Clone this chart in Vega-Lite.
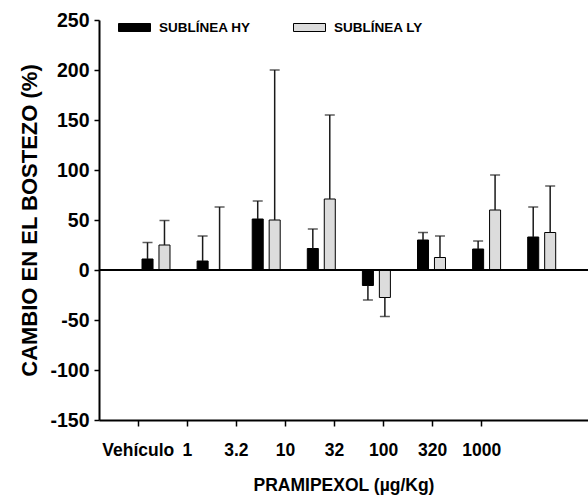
{
  "$schema": "https://vega.github.io/schema/vega-lite/v6.json",
  "width": 489,
  "height": 400,
  "autosize": {"type": "none"},
  "padding": {"left": 99, "top": 20, "right": 0, "bottom": 81},
  "background": "white",
  "config": {
    "view": {"stroke": null},
    "font": "Liberation Sans",
    "axis": {"grid": false, "domainColor": "black", "domainWidth": 2, "tickColor": "black", "tickWidth": 1.5, "labelColor": "black", "titleColor": "black"}
  },
  "data": {
    "values": [
      {"dosis": "Vehículo", "linea": "SUBLÍNEA HY", "media": 11, "limite": 27.5},
      {"dosis": "Vehículo", "linea": "SUBLÍNEA LY", "media": 25, "limite": 49.5},
      {"dosis": "1", "linea": "SUBLÍNEA HY", "media": 9, "limite": 34},
      {"dosis": "1", "linea": "SUBLÍNEA LY", "media": 0, "limite": 63},
      {"dosis": "3.2", "linea": "SUBLÍNEA HY", "media": 51, "limite": 69},
      {"dosis": "3.2", "linea": "SUBLÍNEA LY", "media": 50, "limite": 200},
      {"dosis": "10", "linea": "SUBLÍNEA HY", "media": 21.5, "limite": 41},
      {"dosis": "10", "linea": "SUBLÍNEA LY", "media": 71, "limite": 155},
      {"dosis": "32", "linea": "SUBLÍNEA HY", "media": -15.5, "limite": -30},
      {"dosis": "32", "linea": "SUBLÍNEA LY", "media": -27.5, "limite": -46.5},
      {"dosis": "100", "linea": "SUBLÍNEA HY", "media": 30, "limite": 37.5},
      {"dosis": "100", "linea": "SUBLÍNEA LY", "media": 12.5, "limite": 34},
      {"dosis": "320", "linea": "SUBLÍNEA HY", "media": 21, "limite": 29},
      {"dosis": "320", "linea": "SUBLÍNEA LY", "media": 60, "limite": 95},
      {"dosis": "1000", "linea": "SUBLÍNEA HY", "media": 33, "limite": 63},
      {"dosis": "1000", "linea": "SUBLÍNEA LY", "media": 37.5, "limite": 84}
    ]
  },
  "layer": [
    {
      "encoding": {
        "x": {"field": "dosis", "type": "nominal", "sort": ["Vehículo", "1", "3.2", "10", "32", "100", "320", "1000"],
              "scale": {"type": "band", "paddingInner": 0.492, "paddingOuter": 0.6835, "align": 0.571, "round": false}, "axis": null},
        "xOffset": {"field": "linea", "type": "nominal", "sort": ["SUBLÍNEA HY", "SUBLÍNEA LY"],
                    "scale": {"paddingInner": 0.35, "paddingOuter": 0, "round": false}}
      },
      "layer": [
        {
          "mark": {"type": "bar", "stroke": "black", "strokeWidth": 1},
          "encoding": {
            "y": {"field": "media", "type": "quantitative",
                  "scale": {"domain": [-150, 250], "nice": false, "zero": false},
                  "axis": {"values": [-150, -100, -50, 0, 50, 100, 150, 200, 250],
                           "labelExpr": "replace(toString(datum.value), '\u2212', '-')",
                           "title": "CAMBIO EN EL BOSTEZO (%)",
                           "labelFontSize": 19.5, "labelFontWeight": "bold", "labelPadding": 5, "tickSize": 5,
                           "titleFontSize": 22, "titleFontWeight": "bold", "titlePadding": 8}},
            "color": {"field": "linea", "type": "nominal",
                      "scale": {"domain": ["SUBLÍNEA HY", "SUBLÍNEA LY"], "range": ["#000000", "#dcdcdc"]},
                      "legend": {"orient": "none", "legendX": 19, "legendY": -9, "direction": "horizontal", "title": null,
                                 "symbolType": "M-1,-0.25H1V0.25H-1Z", "symbolSize": 1024, "symbolStrokeColor": "black",
                                 "symbolStrokeWidth": 1, "symbolOpacity": 1, "labelFontSize": 13.5, "labelFontWeight": "bold",
                                 "labelColor": "black", "labelOffset": 8, "columnPadding": 40, "padding": 0}}
          }
        },
        {
          "mark": {"type": "rule", "color": "#1a1a1a", "strokeWidth": 1.5},
          "encoding": {
            "y": {"field": "media", "type": "quantitative"},
            "y2": {"field": "limite"}
          }
        },
        {
          "mark": {"type": "tick", "color": "#1a1a1a", "thickness": 1.5, "size": 10},
          "encoding": {
            "y": {"field": "limite", "type": "quantitative"}
          }
        }
      ]
    },
    {
      "mark": {"type": "rule", "color": "black", "strokeWidth": 1.5},
      "encoding": {"y": {"datum": 0, "type": "quantitative"}}
    },
    {
      "mark": {"type": "point", "opacity": 0},
      "encoding": {
        "x": {"field": "dosis", "type": "nominal", "sort": ["Vehículo", "1", "3.2", "10", "32", "100", "320", "1000"],
              "scale": {"type": "band", "paddingInner": 0, "paddingOuter": 0.9847, "align": 0.153, "round": false},
              "axis": {"title": "PRAMIPEXOL (µg/Kg)", "labelAngle": 0, "labelFontSize": 17.5, "labelFontWeight": "bold",
                       "ticks": true, "tickSize": 6,
                       "labelPadding": 15, "titleFontSize": 17.5, "titleFontWeight": "bold", "titlePadding": 18}},
        "y": {"datum": 0, "type": "quantitative"}
      }
    }
  ],
  "resolve": {"scale": {"x": "independent"}}
}
